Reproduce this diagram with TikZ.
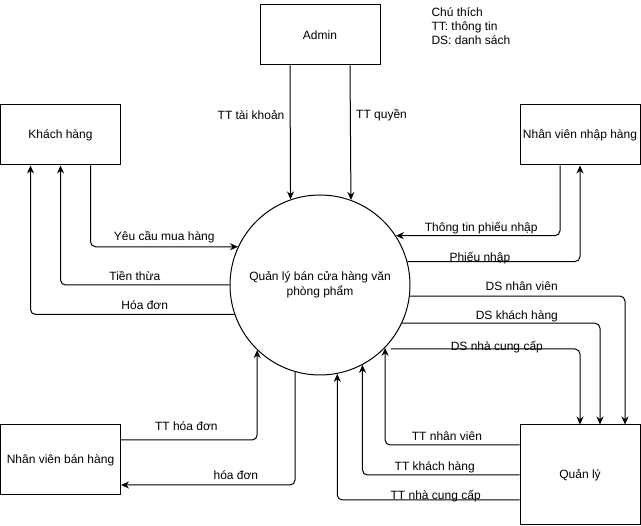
\documentclass[tikz,border=0pt]{standalone}
\usepackage{fontspec}
\setmainfont{Liberation Sans}
\usetikzlibrary{arrows.meta}

\begin{document}
\begin{tikzpicture}[x=1pt,y=-1pt,line width=1pt,font=\fontsize{12}{14}\selectfont]
       \tikzset{entity/.style={rectangle, draw, minimum width=120pt, minimum height=60pt, inner sep=2pt}}

       \tikzset{process/.style={circle, draw, minimum size=180pt, align=center,
                font=\fontsize{12}{15}\selectfont}}

       \tikzset{flow/.style={-{Stealth[length=8pt,width=7pt]}, rounded corners=5pt}}
       \tikzset{lbl/.style={anchor=base, inner sep=0pt}}

        \useasboundingbox (0,0) rectangle (641,526);

        \node[process] (proc) at (320,285) {Quản lý bán cửa hàng văn\\phòng phẩm};
        \node[entity] (admin) at (320,35) {Admin};
        \node[entity] (khach) at (60.5,135) {Khách hàng};
        \node[entity] (nvnhap) at (580,135) {Nhân viên nhập hàng};
        \node[entity, minimum height=70pt] (nvban) at (60.5,460) {Nhân viên bán hàng};
        \node[entity, minimum height=100pt] (quanly) at (580,475) {Quản lý};
        %\node[anchor=north west] (note) at (430,5) {Chú thích};
        \node[anchor=north west, align=left, inner sep=0pt] (note) at (431,7) {Chú thích\\TT: thông tin\\DS: danh sách};

        \draw[flow] ([xshift=-30pt]admin.south) -- node[left=2pt, pos=0.37] {TT tài khoản} (proc.109.47);
        \draw[flow] ([xshift=30pt]admin.south) -- node[right=2pt, pos=0.37] {TT quyền} (proc.70.53);

        \draw[flow] ([xshift=30pt]khach.south) |- node[lbl, pos=0.75, yshift=6pt] {Yêu cầu mua hàng} (proc.155);
        \draw[flow] (proc.west) -| node[lbl, pos=0.28, yshift=4.5pt] {Tiền thừa} (khach.south);
        \draw[flow] (proc.199.47) -| node[lbl, pos=0.22, yshift=4.5pt] {Hóa đơn} ([xshift=-30pt]khach.south);

        \draw[flow] ([xshift=-20pt]nvnhap.south) |- node[lbl, pos=0.74, yshift=4.5pt] {Thông tin phiếu nhập} (proc.33.7);
        \draw[flow] (proc.15.47) -| node[lbl, pos=0.21, yshift=0.5pt] {Phiếu nhập} (nvnhap.south);

        \draw[flow] (proc.-7) -| node[lbl, pos=0.26, yshift=5.5pt] {DS nhân viên} ([xshift=45pt]quanly.north);
        \draw[flow] (proc.-25) -| node[lbl, pos=0.29, yshift=3.5pt] {DS khách hàng} ([xshift=20pt]quanly.north);
        \draw[flow] ([xshift=7pt]proc.-45.3) -| node[lbl, pos=0.28, yshift=-1.5pt] {DS nhà cung cấp} (quanly.north);

        \draw[flow] ([yshift=30pt]quanly.west) -| node[lbl, pos=0.27, yshift=4.5pt] {TT nhân viên} (proc.-44.7);
        \draw[flow] (quanly.west) -| node[lbl, pos=0.27, yshift=4.5pt] {TT khách hàng} (proc.-62.2);
        \draw[flow] ([yshift=-25pt]quanly.west) -| node[lbl, pos=0.23, yshift=0.5pt] {TT nhà cung cấp} (proc.-79.1);

        \draw[flow] ([yshift=20pt]nvban.east) -| node[lbl, pos=0.24, yshift=9.5pt] {TT hóa đơn} (proc.-134.4);
        \draw[flow] (proc.-106.8) |- node[lbl, pos=0.67, yshift=5.5pt] {hóa đơn} ([yshift=-25pt]nvban.east);

   \end{tikzpicture}
\end{document}
